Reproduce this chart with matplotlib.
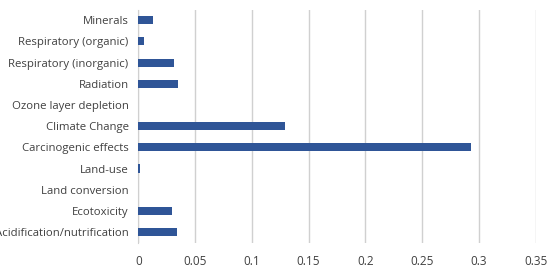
import numpy as np
import matplotlib; matplotlib.use("Agg")
import matplotlib.pyplot as plt

categories = ["Minerals", "Respiratory (organic)", "Respiratory (inorganic)", "Radiation",
              "Ozone layer depletion", "Climate Change", "Carcinogenic effects", "Land-use",
              "Land conversion", "Ecotoxicity", "Acidification/nutrification"]
values = [0.0132, 0.005, 0.0317, 0.0347, 0.0, 0.1294, 0.2926, 0.0012, 0.0, 0.0294, 0.0344]
xticks = [0, 0.05, 0.1, 0.15, 0.2, 0.25, 0.3, 0.35]
xticklabels = ["0", "0.05", "0.1", "0.15", "0.2", "0.25", "0.3", "0.35"]

plt.rcParams["font.family"] = ["Open Sans", "DejaVu Sans"]

fig = plt.figure(figsize=(5.52, 2.68), dpi=100)
ax = fig.add_axes([0.2505, 0.0944, 0.72, 0.870])

y = np.arange(len(categories))
ax.barh(y, values, height=0.38, color="#2F5597", zorder=3)
ax.set_ylim(len(categories) - 0.5, -0.5)
ax.set_xlim(0, 0.35)
ax.set_yticks(y)
ax.set_yticklabels(categories, fontsize=8.2, color="#404040")
ax.set_xticks(xticks)
ax.set_xticklabels(xticklabels, fontsize=8.5, color="#404040")
ax.tick_params(axis="both", length=0)
ax.tick_params(axis="y", pad=7)
ax.tick_params(axis="x", pad=9)
ax.grid(axis="x", color="#d0d0d0", lw=1, zorder=0)
for s in ["top", "right", "bottom"]:
    ax.spines[s].set_visible(False)
ax.spines["left"].set_color("#d0d0d0")

plt.savefig("out.png", dpi=100)
plt.close()
